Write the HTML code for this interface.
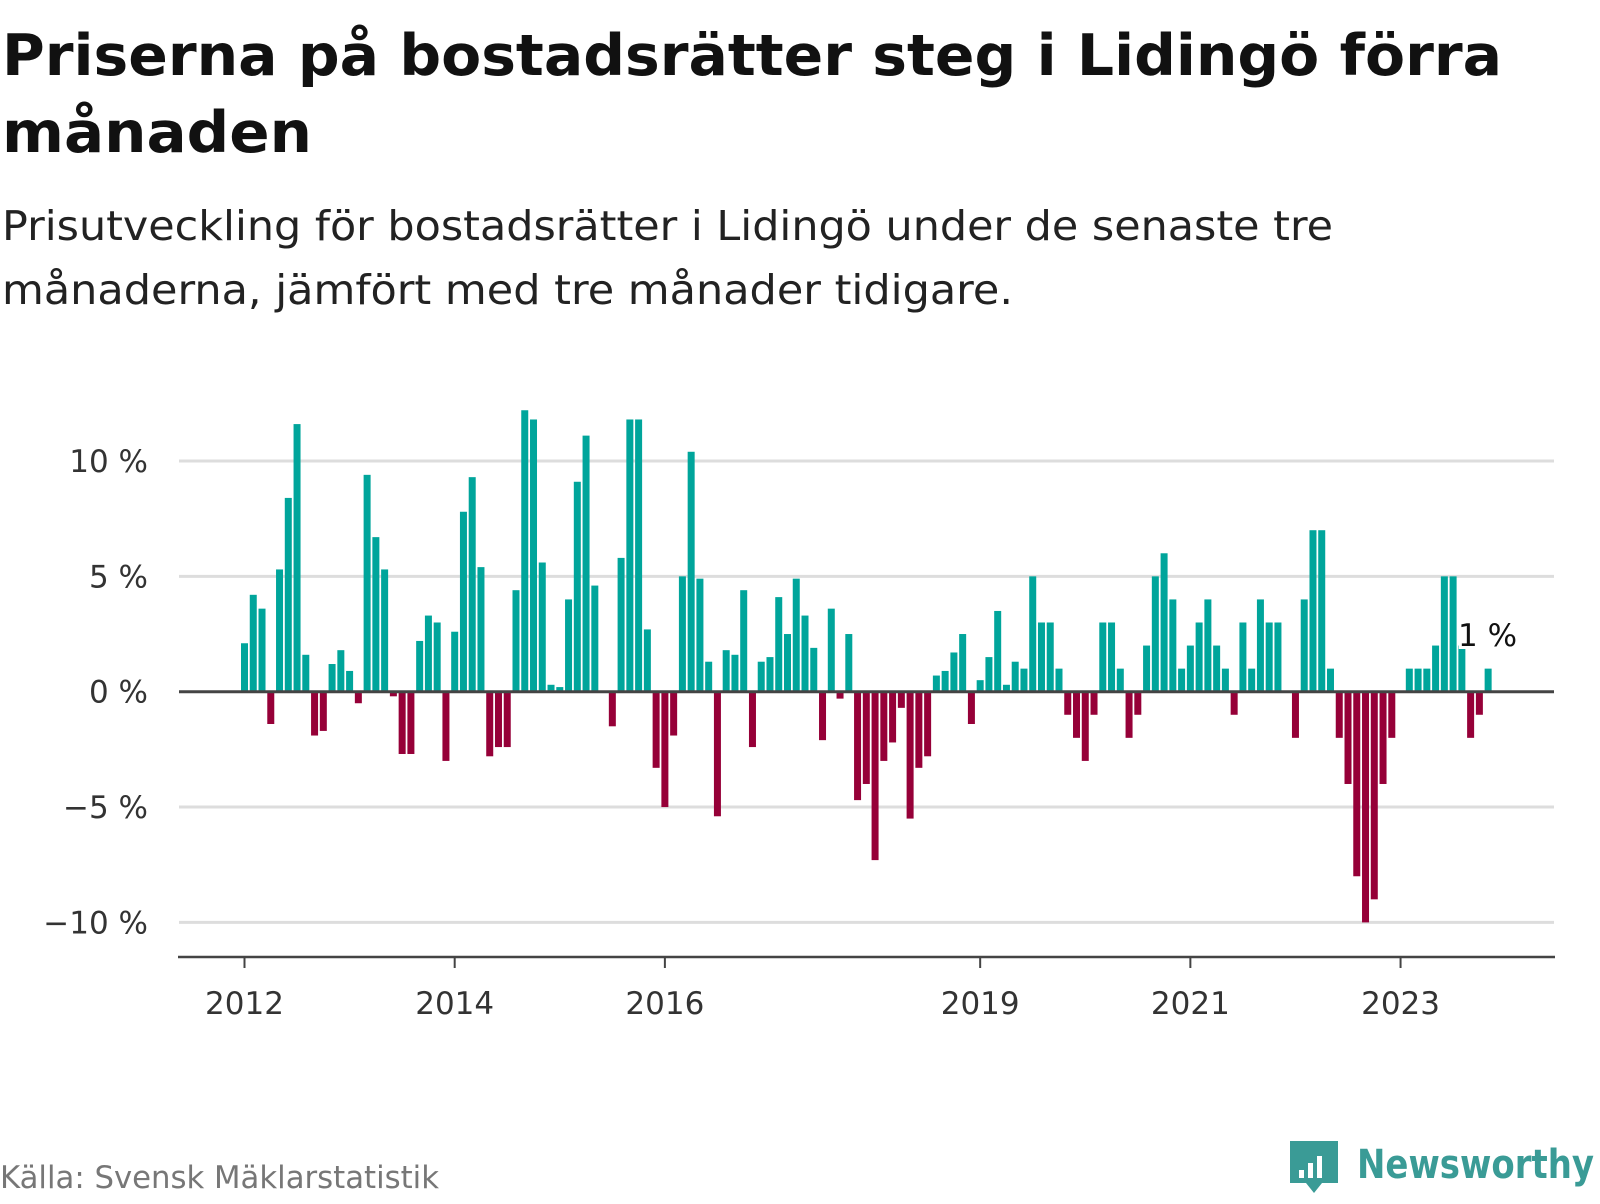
<!DOCTYPE html>
<html><head><meta charset="utf-8">
<style>
html,body{margin:0;padding:0;background:#fff;}
body{width:1600px;height:1200px;overflow:hidden;position:relative;font-family:"DejaVu Sans",sans-serif;color:#111;}
</style></head>
<body>
<svg id="chart" width="1600" height="1200" viewBox="0 0 1600 1200" xmlns="http://www.w3.org/2000/svg" font-family="DejaVu Sans, sans-serif">
  <text x="2" y="75" font-size="57" font-weight="bold" fill="#111" textLength="1500" lengthAdjust="spacingAndGlyphs">Priserna på bostadsrätter steg i Lidingö förra</text>
  <text x="2" y="152" font-size="57" font-weight="bold" fill="#111" textLength="310" lengthAdjust="spacingAndGlyphs">månaden</text>
  <text x="2" y="240" font-size="41" fill="#222" textLength="1331" lengthAdjust="spacingAndGlyphs">Prisutveckling för bostadsrätter i Lidingö under de senaste tre</text>
  <text x="2" y="304" font-size="41" fill="#222" textLength="1011" lengthAdjust="spacingAndGlyphs">månaderna, jämfört med tre månader tidigare.</text>
  <g id="grid"></g>
  <g id="bars"></g>
  <g id="xaxis"></g>
  <text x="1458" y="646" font-size="31" fill="#111" stroke="#fff" stroke-width="6" paint-order="stroke">1 %</text>
  <text x="0" y="1188" font-size="31" fill="#777" textLength="439" lengthAdjust="spacingAndGlyphs">Källa: Svensk Mäklarstatistik</text>
  <g>
    <path d="M1290 1141 h48 v42 h-16 l-8 10 l-8 -10 h-16 z" fill="#3a9b96"/>
    <rect x="1299" y="1170" width="5" height="8" fill="#fff"/>
    <rect x="1308" y="1163" width="5" height="15" fill="#fff"/>
    <rect x="1317" y="1156" width="5" height="22" fill="#fff"/>
    <text x="1357" y="1178" font-size="40" font-weight="bold" fill="#3a9b96" textLength="237" lengthAdjust="spacingAndGlyphs">Newsworthy</text>
  </g>
</svg>
<script>
const monthIndex = [0,1,2,3,4,5,6,7,8,9,10,11,12,13,14,15,16,17,18,19,20,21,22,23,24,25,26,27,28,29,30,31,32,33,34,35,36,37,38,39,40,42,43,44,45,46,47,48,49,50,51,52,53,54,55,56,57,58,59,60,61,62,63,64,65,66,67,68,69,70,71,72,73,74,75,76,77,78,79,80,81,82,83,84,85,86,87,88,89,90,91,92,93,94,95,96,97,98,99,100,101,102,103,104,105,106,107,108,109,110,111,112,113,114,115,116,117,118,120,121,122,123,124,125,126,127,128,129,130,131,133,134,135,136,137,138,139,140,141,142];
const values = [2.1,4.2,3.6,-1.4,5.3,8.4,11.6,1.6,-1.9,-1.7,1.2,1.8,0.9,-0.5,9.4,6.7,5.3,-0.2,-2.7,-2.7,2.2,3.3,3.0,-3.0,2.6,7.8,9.3,5.4,-2.8,-2.4,-2.4,4.4,12.2,11.8,5.6,0.3,0.2,4.0,9.1,11.1,4.6,-1.5,5.8,11.8,11.8,2.7,-3.3,-5.0,-1.9,5.0,10.4,4.9,1.3,-5.4,1.8,1.6,4.4,-2.4,1.3,1.5,4.1,2.5,4.9,3.3,1.9,-2.1,3.6,-0.3,2.5,-4.7,-4.0,-7.3,-3.0,-2.2,-0.7,-5.5,-3.3,-2.8,0.7,0.9,1.7,2.5,-1.4,0.5,1.5,3.5,0.3,1.3,1.0,5.0,3.0,3.0,1.0,-1.0,-2.0,-3.0,-1.0,3.0,3.0,1.0,-2.0,-1.0,2.0,5.0,6.0,4.0,1.0,2.0,3.0,4.0,2.0,1.0,-1.0,3.0,1.0,4.0,3.0,3.0,-2.0,4.0,7.0,7.0,1.0,-2.0,-4.0,-8.0,-10.0,-9.0,-4.0,-2.0,1.0,1.0,1.0,2.0,5.0,5.0,2.0,-2.0,-1.0,1.0];
const yTicks = [10,5,0,-5,-10];
const yTickLabels = ["10 %","5 %","0 %","−5 %","−10 %"];
const xTickYears = [2012,2014,2016,2019,2021,2023];

const NS = "http://www.w3.org/2000/svg";
const y0 = 691.7, pxPerPct = 23.07;
const x0 = 244.5, pxPerMonth = 8.758;
function yScale(v){ return y0 - v*pxPerPct; }
function xScale(m){ return x0 + m*pxPerMonth; }
function mk(tag, attrs, parent){
  const e = document.createElementNS(NS, tag);
  for (const k in attrs) e.setAttribute(k, attrs[k]);
  parent.appendChild(e); return e;
}
const grid = document.getElementById('grid');
yTicks.forEach((t,i)=>{
  if (t !== 0) {
    const l = mk('line',{x1:179,x2:1554,y1:yScale(t),y2:yScale(t),stroke:'#dddddd','stroke-width':3},grid);
    
    
  }
  const tx = mk('text',{x:148,y:yScale(t)+11,'font-size':31,'text-anchor':'end',fill:'#333'},grid);
  tx.textContent = yTickLabels[i];
  
  
});
const bars = document.getElementById('bars');
values.forEach((v,i)=>{
  const x = xScale(monthIndex[i]) - 3.5;
  const top = v >= 0 ? yScale(v) : y0;
  const h = Math.abs(yScale(v) - y0);
  const r = mk('rect',{x:x,y:top,width:7,height:h,fill: v>=0 ? '#00a59b' : '#960038'},bars);
  
  
});
const zl = mk('line',{x1:179,x2:1554,y1:y0,y2:y0,stroke:'#444','stroke-width':3},bars);


const xa = document.getElementById('xaxis');
const al = mk('line',{x1:178,x2:1555,y1:957,y2:957,stroke:'#444','stroke-width':2.5},xa);


xTickYears.forEach(yr=>{
  const x = xScale((yr-2012)*12);
  const tk = mk('line',{x1:x,x2:x,y1:957,y2:968,stroke:'#444','stroke-width':2},xa);
  
  
  const t = mk('text',{x:x,y:1014,'font-size':31,'text-anchor':'middle',fill:'#333'},xa);
  t.textContent = String(yr);
  
  
});
</script>
</body></html>
